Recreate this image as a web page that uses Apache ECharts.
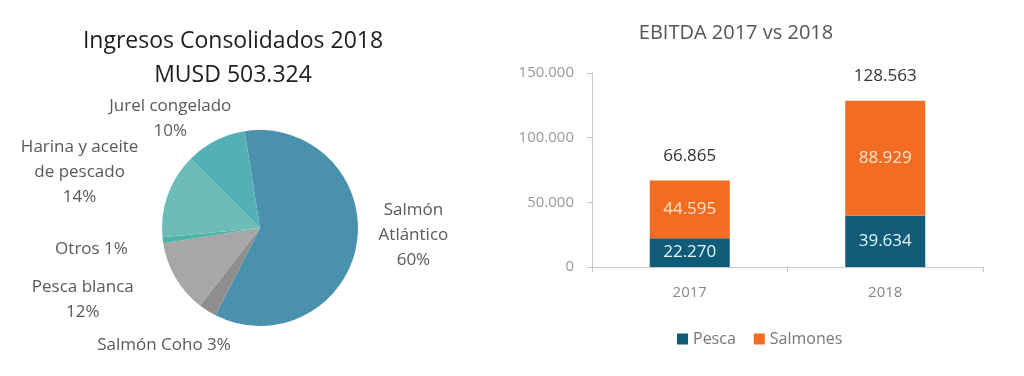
<!DOCTYPE html>
<html>
<head>
<meta charset="utf-8">
<script src="https://cdn.jsdelivr.net/npm/echarts@6/dist/echarts.min.js"></script>
<style>
  html, body { margin: 0; padding: 0; background: #fff; }
  #main { width: 1024px; height: 376px; }
</style>
</head>
<body>
<div id="main"></div>
<script>
// pie: ingresos 2018 (%)
var pieNames = ['Salmón\nAtlántico', 'Salmón Coho', 'Pesca blanca', 'Otros', 'Harina y aceite\nde pescado', 'Jurel congelado'];
var pieValues = [60, 3, 12, 1, 14, 10];

// bars: EBITDA
var years = ['2017', '2018'];
var pesca = [22270, 39634];
var salmones = [44595, 88929];
var yTicks = [0, 50000, 100000, 150000];

// estilo de la torta
var pieColors = ['#4a91ad', '#8e8e8e', '#a7a7a7', '#4fb3a8', '#6cbdb6', '#55b0b6'];
var pieLabelInline = [false, true, false, true, false, false]; // % en la misma linea
var labelNudge = [[-7, -11], [44, 19], [-19, 13], [-11, 7], [-6, -17], [35, -6]];

function fmt(n) {
	return String(n).replace(/\B(?=(\d{3})+(?!\d))/g, '.');
}

var totals = years.map(function (y, i) { return pesca[i] + salmones[i]; });

var font = '"Open Sans", "Noto Sans", sans-serif';
var chart = echarts.init(document.getElementById('main'));

var pieData = pieNames.map(function (n, i) {
	return { name: n, value: pieValues[i], itemStyle: { color: pieColors[i] } };
});

option = {
	textStyle: { fontFamily: font },
	title: [{
		text: 'Ingresos Consolidados 2018\nMUSD 503.324',
		left: 228, top: 19, textAlign: 'center',
		textStyle: { fontSize: 23, fontWeight: 'normal', color: '#1e1e1e', lineHeight: 34, fontFamily: font }
	}, {
		text: 'EBITDA 2017 vs 2018',
		left: 731, top: 18, textAlign: 'center',
		textStyle: { fontSize: 20, fontWeight: 'normal', color: '#555', fontFamily: font }
	}],
	legend: {
		data: ['Pesca', 'Salmones'],
		left: 672, top: 326,
		itemWidth: 11, itemHeight: 11, itemGap: 18,
		icon: 'rect',
		textStyle: { color: '#777', fontSize: 16, fontFamily: font }
	},
	grid: { left: 592, right: 41, top: 73, bottom: 109 },
	xAxis: {
		type: 'category',
		data: years,
		axisLine: { lineStyle: { color: '#c8c8c8' } },
		axisTick: { show: true, length: 5, lineStyle: { color: '#c8c8c8' } },
		axisLabel: { color: '#888', fontSize: 15, margin: 18 }
	},
	yAxis: {
		type: 'value',
		min: 0, max: 150000, interval: 50000,
		axisLine: { show: true, lineStyle: { color: '#c8c8c8' } },
		axisTick: { show: true, length: 5, lineStyle: { color: '#c8c8c8' } },
		splitLine: { show: false },
		axisLabel: {
			color: '#999', fontSize: 15, margin: 18,
			formatter: function (v) { return yTicks.indexOf(v) >= 0 ? fmt(v) : ''; }
		}
	},
	series: [{
		name: 'Ingresos',
		type: 'pie',
		center: [260, 228],
		radius: 98,
		startAngle: 99,
		clockwise: true,
		data: pieData,
		labelLine: { show: false, length: 18, length2: 6 },
		label: {
			show: true,
			position: 'outside',
			color: '#595959',
			fontSize: 17,
			lineHeight: 25,
			fontFamily: font,
			formatter: function (p) {
				return p.name + (pieLabelInline[p.dataIndex] ? ' ' : '\n') + p.value + '%';
			}
		},
		labelLayout: function (p) {
			var r = p.labelRect;
			var d = labelNudge[p.dataIndex];
			return {
				x: r.x + r.width / 2 + d[0], y: r.y + r.height / 2 + d[1],
				align: 'center', verticalAlign: 'middle'
			};
		},
		emphasis: { disabled: true },
		silent: true
	}, {
		name: 'Pesca',
		type: 'bar',
		stack: 'e',
		barWidth: 80,
		data: pesca,
		itemStyle: { color: '#105b77' },
		label: {
			show: true, position: 'inside', color: '#e3f6ff', fontSize: 17,
			formatter: function (p) { return fmt(p.value); }
		}
	}, {
		name: 'Salmones',
		type: 'bar',
		stack: 'e',
		barWidth: 80,
		data: salmones,
		itemStyle: { color: '#f26c22' },
		label: {
			show: true, position: 'inside', color: '#fde2cc', fontSize: 17,
			formatter: function (p) { return fmt(p.value); }
		}
	}, {
		name: 'Total',
		type: 'bar',
		stack: 'e',
		barWidth: 80,
		data: years.map(function () { return 0; }),
		label: {
			show: true, position: 'top', distance: 16, color: '#333', fontSize: 17,
			formatter: function (p) { return fmt(totals[p.dataIndex]); }
		}
	}]
};
chart.setOption(option);
</script>
</body>
</html>
